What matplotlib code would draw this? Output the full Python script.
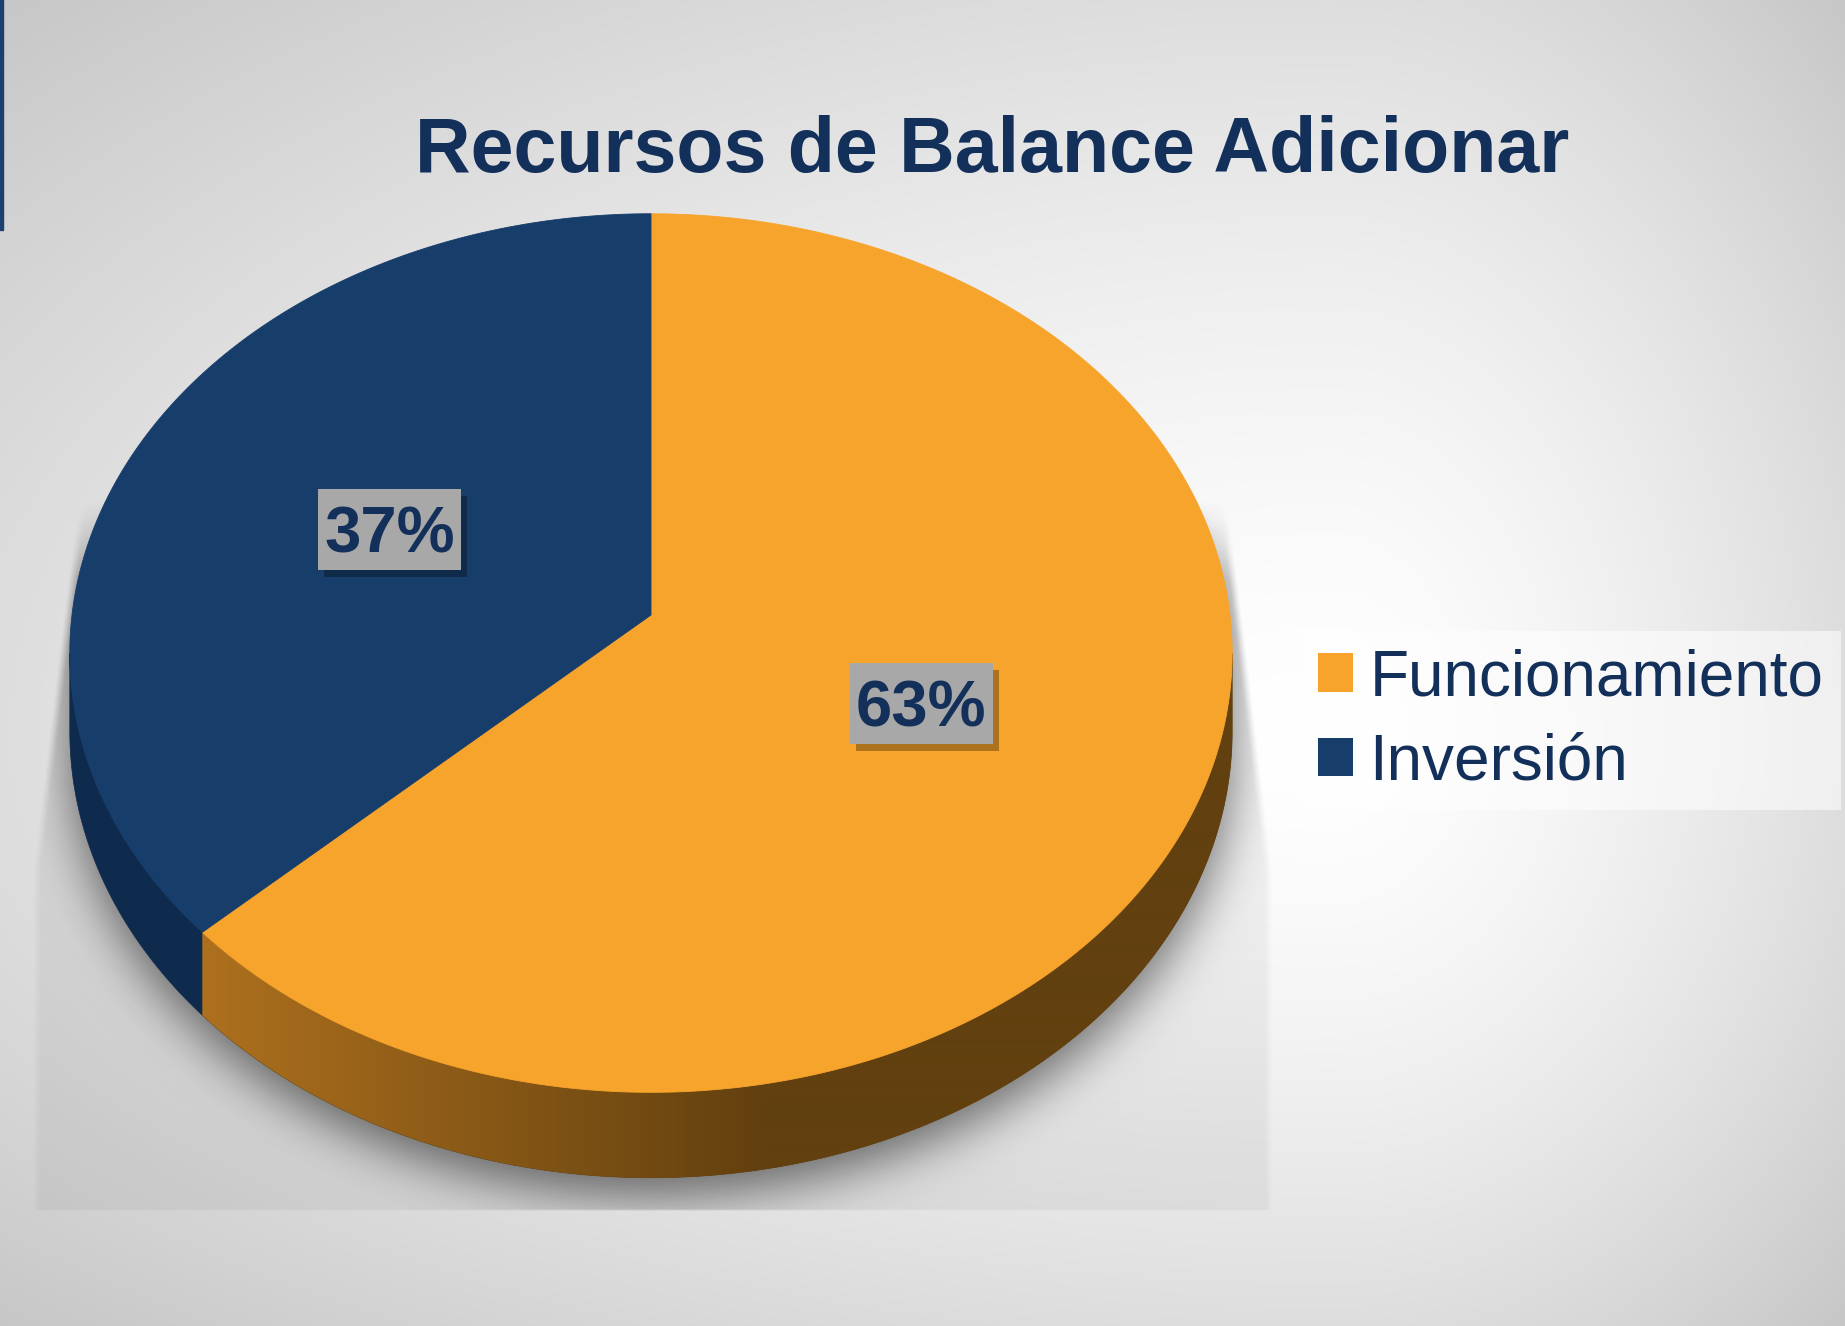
import numpy as np
import matplotlib.pyplot as plt
from matplotlib.patches import Polygon, Rectangle, Patch
from matplotlib.path import Path
from matplotlib.colors import to_rgb

plt.rcParams['font.family'] = ['Liberation Sans', 'DejaVu Sans']

# datos
titulo = 'Recursos de Balance Adicionar'
categorias = ['Funcionamiento', 'Inversión']
valores = [63, 37]
etiquetas = ['63%', '37%']
color_sup = ['#F7A42C', '#173D6B']
color_lado = ['#62400F', '#0E2A4D']
azul_texto = '#13305A'

W, H = 1845, 1326

# torta 3D en perspectiva (coordenadas en pixeles)
cx, cy = 651, 615
A, B = 579, 436
p = 0.0866
alto = 78


def proyectar(theta, r=1.0):
    # theta en grados, sentido horario desde las 12
    t = np.radians(theta)
    X = r * np.sin(t)
    Z = r * np.cos(t)
    w = 1 + p * Z
    return cx + A * X / w, cy - B * Z / w, w


fig = plt.figure(figsize=(W / 100, H / 100), dpi=100)
ax = fig.add_axes([0, 0, 1, 1])
ax.set_xlim(0, W)
ax.set_ylim(H, 0)
ax.axis('off')

# fondo con degradado radial
yy, xx = np.mgrid[0:H, 0:W] + 0.5
gx, gy = 1330, 740
nx = np.where(xx < gx, (gx - xx) / 1330, (xx - gx) / 515)
ny = np.where(yy < gy, (gy - yy) / 740, (yy - gy) / 586)
r = np.sqrt(nx ** 2 + ny ** 2)
gris = 1 - 0.22 * np.clip(r / 1.41, 0, 1.2) ** 1.5
ax.imshow(np.dstack([gris] * 3), extent=(0, W, H, 0), aspect='auto', zorder=0)
ax.add_patch(Rectangle((0, 0), 3, 230, color='#1B3F6E', zorder=1))

# contorno de la torta (cara superior + lateral)
th_izq, th_der = 265.0, 95.0
arco_sup = np.linspace(th_izq, th_der + 360, 300)
arco_inf = np.linspace(th_der, th_izq, 200)
sx1, sy1, _ = proyectar(arco_sup)
sx2, sy2, w2 = proyectar(arco_inf)
silueta = np.column_stack([np.r_[sx1, sx2], np.r_[sy1, sy2 + alto / w2]])

# sombra: silueta difuminada, recortada por un trapecio
f = 2
hs, ws = H // f, W // f
ys, xs = np.mgrid[0:hs, 0:ws] * f + f / 2
pad = 80
pts = np.column_stack([xs.ravel(), ys.ravel() - 18])
mask = Path(silueta).contains_points(pts).reshape(hs, ws).astype(float)
mask = np.pad(mask, pad)
ky = np.fft.fftfreq(mask.shape[0])
kx = np.fft.rfftfreq(mask.shape[1])
s = 24 / f
g = np.exp(-2 * (np.pi * s) ** 2 * (ky[:, None] ** 2 + kx[None, :] ** 2))
difusa = np.fft.irfft2(np.fft.rfft2(mask) * g, s=mask.shape)[pad:-pad, pad:-pad]

x_izq = np.where(ys < 870, 76 - (ys - 520) * 43 / 350, 33)
x_der = np.where(ys < 870, 1232 + (ys - 540) * 40 / 330, 1272)
trap = (np.clip((xs - x_izq) / 8, 0, 1) * np.clip((x_der - xs) / 8, 0, 1)
        * np.clip((ys - 500) / 80, 0, 1) * (ys < 1210))
alfa = trap * (0.05 + 0.5 * np.clip(difusa, 0, 1))
sombra = np.zeros((hs, ws, 4))
sombra[..., 3] = alfa
ax.imshow(sombra, extent=(0, W, H, 0), aspect='auto', zorder=2,
          interpolation='bilinear')

# lateral de cada porcion
corte = 360 * valores[0] / sum(valores)
tramos_lado = [(th_der, corte), (corte, th_izq)]
for i, (a0, a1) in enumerate(tramos_lado):
    th = np.linspace(a0, a1, 200)
    x, y, w = proyectar(th)
    poly = np.column_stack([np.r_[x, x[::-1]], np.r_[y, (y + alto / w)[::-1]]])
    lado = Polygon(poly, closed=True, fc=color_lado[i], ec=color_lado[i],
                   lw=0.5, zorder=3)
    ax.add_patch(lado)
    if i == 0:
        # degradado horizontal en el lateral naranja
        c0 = np.array(to_rgb('#AD701E'))
        c1 = np.array(to_rgb(color_lado[0]))
        t = np.clip((np.arange(W) - 205) / 560, 0, 1)[:, None]
        fila = (c0 * (1 - t) + c1 * t)[None, :, :]
        im = ax.imshow(fila, extent=(0, W, H, 0), aspect='auto', zorder=3.5,
                       interpolation='bilinear')
        im.set_clip_path(lado)

# cara superior
caja_w, caja_h = 143, 81
inicio = 0.0
for i, v in enumerate(valores):
    fin = inicio + 360 * v / sum(valores)
    th = np.linspace(inicio, fin, 300)
    x, y, _ = proyectar(th)
    poly = np.column_stack([np.r_[cx, x], np.r_[cy, y]])
    ax.add_patch(Polygon(poly, closed=True, fc=color_sup[i], ec=color_sup[i],
                         lw=0.6, zorder=4))

    # etiqueta de porcentaje en el medio de la porcion
    lx, ly, _ = proyectar((inicio + fin) / 2, 0.5)
    ax.add_patch(Rectangle((lx - caja_w / 2 + 6, ly - caja_h / 2 + 7), caja_w, caja_h,
                           fc='black', ec='none', alpha=0.3, zorder=5))
    ax.add_patch(Rectangle((lx - caja_w / 2, ly - caja_h / 2), caja_w, caja_h,
                           fc='#A8A8A8', ec='none', zorder=5.5))
    ax.text(lx, ly + 23, etiquetas[i], ha='center', va='baseline', fontsize=47,
            fontweight='bold', color=azul_texto, zorder=6)
    inicio = fin

# titulo
ax.text(992, 172, titulo, ha='center', va='baseline', fontsize=55.5,
        fontweight='bold', color=azul_texto, zorder=6)

# leyenda
manejadores = [Patch(fc=c, ec='none') for c in color_sup]
leg = ax.legend(manejadores, categorias, loc='upper left',
                bbox_to_anchor=(1301 / W, 1 - 631 / H), fontsize=46,
                frameon=True, fancybox=False, facecolor='white', framealpha=0.55,
                edgecolor='none', handlelength=0.55, handleheight=0.55,
                handletextpad=0.25, borderpad=0.27, labelspacing=0.38,
                borderaxespad=0, labelcolor=azul_texto)
leg.set_zorder(7)

fig.savefig('out.png', dpi=100)
